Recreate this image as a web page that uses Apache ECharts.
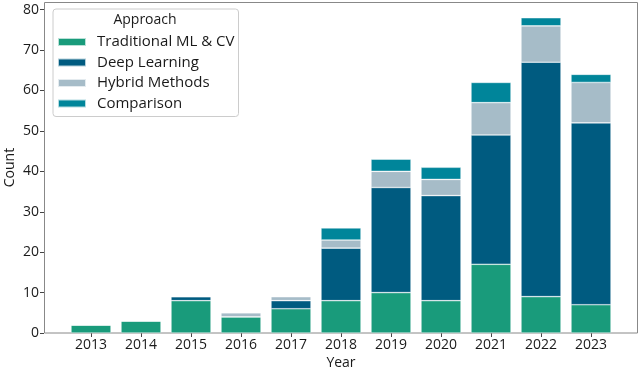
<!DOCTYPE html>
<html>
<head>
<meta charset="utf-8">
<script src="https://cdn.jsdelivr.net/npm/echarts@6/dist/echarts.min.js"></script>
<style>
html, body { margin: 0; padding: 0; background: #fff; }
#chart { width: 640px; height: 371px; }
</style>
</head>
<body>
<div id="chart"></div>
<script>
const years = ['2013', '2014', '2015', '2016', '2017', '2018', '2019', '2020', '2021', '2022', '2023'];
const traditional = [2, 3, 8, 4, 6, 8, 10, 8, 17, 9, 7];
const deepLearning = [0, 0, 1, 0, 2, 13, 26, 26, 32, 58, 45];
const hybrid = [0, 0, 0, 1, 1, 2, 4, 4, 8, 9, 10];
const comparison = [0, 0, 0, 0, 0, 3, 3, 3, 5, 2, 2];

const names = ['Traditional ML & CV', 'Deep Learning', 'Hybrid Methods', 'Comparison'];
const colors = ['#199b7b', '#005b80', '#a6bcc8', '#00859a'];
const values = [traditional, deepLearning, hybrid, comparison];

const font = 'Open Sans';
const txt = '#1a1a1a';
const chart = echarts.init(document.getElementById('chart'));

// plot box 44..638 x 2..333; categories are 50px wide with 22px slack each side
chart.setOption({
    animation: false,
    color: colors,
    grid: { left: 66, right: 24, top: 2, bottom: 38, containLabel: false, outerBoundsMode: 'none' },
    xAxis: {
        type: 'category',
        data: years,
        name: 'Year',
        nameLocation: 'middle',
        nameGap: 23,
        nameMoveOverlap: false,
        nameTextStyle: { fontFamily: font, fontSize: 14, color: txt },
        axisLine: { show: false },
        axisTick: { show: true, alignWithLabel: true, length: 4, lineStyle: { color: '#444' } },
        axisLabel: { interval: 0, fontFamily: font, fontSize: 14, color: txt, margin: 5 },
        splitLine: { show: false }
    },
    yAxis: {
        type: 'value',
        min: 0,
        max: 81.9,
        interval: 10,
        offset: 22,
        name: 'Count',
        nameLocation: 'middle',
        nameGap: 27,
        nameMoveOverlap: false,
        nameTextStyle: { fontFamily: font, fontSize: 14, color: txt },
        axisLine: { show: false },
        axisTick: { show: true, length: 4, lineStyle: { color: '#444' } },
        axisLabel: { showMaxLabel: false, fontFamily: font, fontSize: 14, color: txt, margin: 5 },
        splitLine: { show: false }
    },
    legend: {
        orient: 'vertical',
        left: 53,
        top: 9,
        padding: [25, 4, 5, 4],
        itemWidth: 28,
        itemHeight: 8,
        itemGap: 4.5,
        icon: 'rect',
        backgroundColor: '#fff',
        borderColor: '#ccc',
        borderWidth: 1,
        borderRadius: 3,
        textStyle: { fontFamily: font, fontSize: 15, color: txt, lineHeight: 16, padding: [0, 0, 0, 6] },
        data: names
    },
    graphic: [{
        type: 'rect',
        z: 1,
        shape: { x: 44.5, y: 2.5, width: 593, height: 330.5 },
        style: { fill: null, stroke: '#888', lineWidth: 1 }
    }, {
        type: 'text',
        x: 145,
        y: 20,
        z: 100,
        style: {
            text: 'Approach',
            fontFamily: font,
            fontSize: 14,
            fill: txt,
            align: 'center',
            verticalAlign: 'middle'
        }
    }],
    series: names.map((name, k) => ({
        name: name,
        type: 'bar',
        stack: 'total',
        barWidth: 40,
        itemStyle: { color: colors[k], borderColor: 'rgba(255,255,255,0.7)', borderWidth: 0.6 },
        data: values[k]
    }))
});
</script>
</body>
</html>
